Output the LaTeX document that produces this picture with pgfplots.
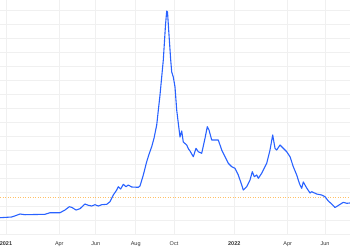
\documentclass[border=0pt]{standalone}
\usepackage{pgfplots}
\pgfplotsset{compat=1.18}
\usepackage{fontspec}
\setmainfont{Liberation Sans}
\definecolor{lineblue}{HTML}{2962FF}
\definecolor{gridgray}{HTML}{F0F0F0}
\definecolor{refor}{HTML}{FFA726}
\definecolor{labgray}{HTML}{333333}
\begin{document}
\begin{tikzpicture}[x=1pt,y=1pt]
\useasboundingbox (0,0) rectangle (350,250);
\begin{axis}[
  at={(0pt,15.3pt)}, anchor=south west,
  scale only axis, width=350pt, height=234.7pt,
  xmin=0, xmax=350, ymin=0, ymax=234.7,
  axis line style={draw=none},
  tick style={draw=none},
  grid=major,
  major grid style={draw=gridgray, line width=0.6pt},
  ytick={0,14,...,224},
  yticklabels={},
  xtick={6,59.3,95.7,135.7,174,234.3,287.7,325},
  xticklabels={\textbf{2021},Apr,Jun,Aug,Oct,\textbf{2022},Apr,Jun},
  xticklabel style={anchor=center, yshift=-9pt, font=\fontsize{5.5}{6}\selectfont, text=labgray},
  clip=false,
]
\addplot[refor, line width=0.5pt, dotted, opacity=0.7, forget plot] coordinates {(0,37.4) (350,37.4)};
\addplot[lineblue, line width=1.1pt, line join=round] table {
x y
0 17.0
11.7 17.7
16 19.2
20 20.7
25 20.0
35 20.2
45 20.4
50 22.0
60 22.0
65 24.7
69.3 28.0
71.7 27.4
76 24.7
80 26.0
85 30.7
88.3 29.4
91.7 28.7
95 30.0
98.3 28.7
101.7 30.0
106.7 30.4
110 33.0
113.3 39.7
116.7 44.7
118.3 48.0
120.7 45.7
123.3 50.4
126 48.0
128.3 49.7
131.7 47.7
138.3 47.4
140 48.7
143.3 59.7
146.7 73.0
149 80.4
151.7 88.0
154 96.4
156.7 109.7
160 139.7
163.3 174.7
165.5 209.7
166.7 223.7
167.5 222.7
169 199.7
170.7 174.7
171.7 162.7
173.3 157.7
175 147.7
176.7 124.7
178.3 111.4
180 97.7
181.7 103.7
183.3 92.7
186.7 89.7
188.5 85.7
190 83.7
193.3 78.0
196 86.4
198.3 83.0
201.7 81.4
205 96.4
207.3 108.0
209 104.7
211.7 94.7
218.3 94.7
221.7 84.7
225 78.0
228.3 71.4
231.7 68.0
235 66.4
238.3 59.7
241.7 49.7
243.3 44.7
246.7 48.0
250 54.7
252.3 63.0
254.3 58.0
256.7 59.7
258.3 56.4
261.7 61.4
265 68.0
266.7 71.4
270 84.7
272.7 99.7
275 86.4
276.7 84.7
280 89.7
283.3 86.4
286.7 83.0
290 78.0
293.3 68.0
296.7 59.7
298.3 54.7
300 49.7
301.7 46.4
303.3 52.7
306.7 46.7
310 41.7
311.7 43.0
316.7 40.7
321.7 39.7
325 38.0
328.3 33.7
331.7 30.7
335 27.2
338.3 29.2
341.7 31.4
343.3 32.4
346.7 31.4
350 31.7
};
\end{axis}
\end{tikzpicture}
\end{document}
